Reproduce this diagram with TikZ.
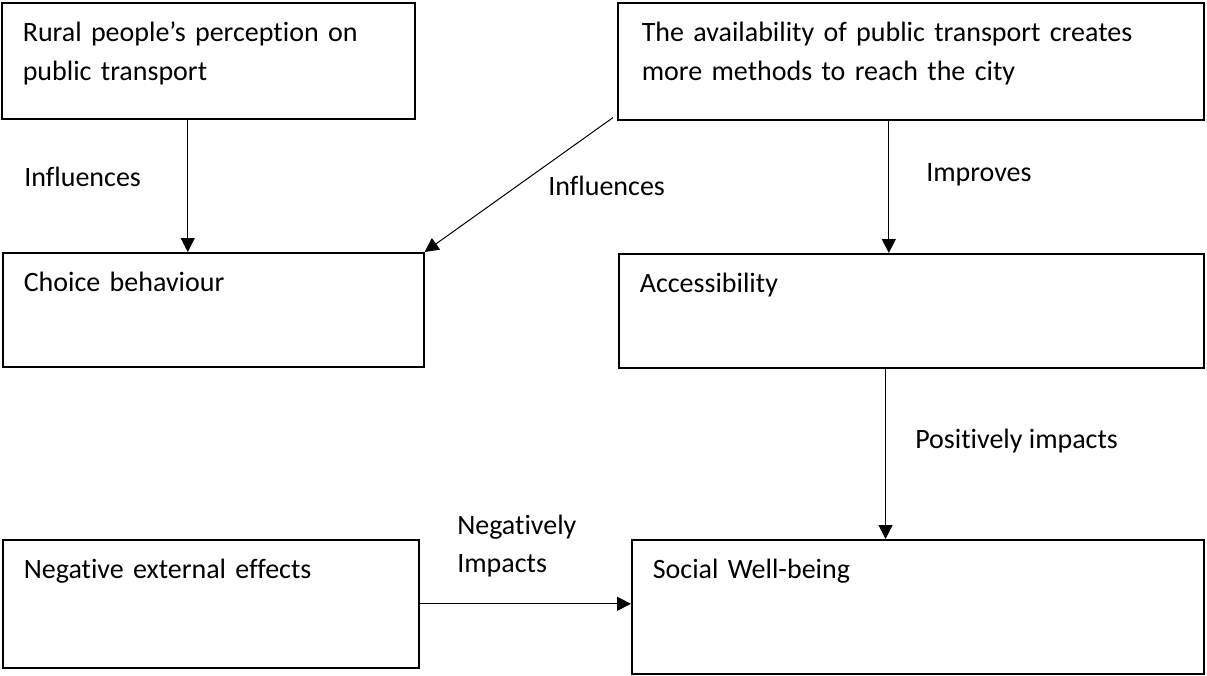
\documentclass[tikz,border=0pt]{standalone}
\usepackage{fontspec}
\setmainfont[Ligatures={NoCommon}]{Carlito}
\usetikzlibrary{arrows.meta}

\begin{document}
\begin{tikzpicture}[x=0.75pt, y=-0.75pt,
    box/.style={draw, line width=1.2pt, anchor=north west, align=left, inner xsep=15.75pt, inner ysep=0pt, text height=29.25pt, font=\fontsize{21pt}{29.25pt}\selectfont},
    lbl/.style={anchor=west, inner sep=0pt, align=left, font=\fontsize{21pt}{28.5pt}\selectfont},
    arr/.style={line width=0.75pt, -{Triangle[length=10.5pt,width=10.5pt]}}]
				\useasboundingbox (0,0) rectangle (1207,675);
				\node[box, text width=403.5pt, text depth=58.5pt, inner xsep=18pt] (avail) at (617,2) {The availability of public transport creates\\more methods to reach the city};
				\node[box, text width=278.25pt, text depth=57.75pt] (rural) at (1,2) {Rural people’s perception on\\public transport};
				\node[box, text width=284.25pt, text depth=56.25pt] (choice) at (2,252) {Choice behaviour};
				\node[box, text width=407.25pt, text depth=56.25pt] (access) at (618,253) {Accessibility};
				\node[box, text width=280.5pt, text depth=66.75pt] (negext) at (2,539) {Negative external effects};
				\node[box, text width=397.5pt, text depth=71.25pt] (social) at (631,539) {Social Well-being};
				\node[lbl] (influleft) at (24,177) {Influences};
				\node[lbl] (influmid) at (548,186) {Influences};
				\node[lbl] (improves) at (926,175) {Improves};
				\node[lbl] (posimp) at (915,441) {Positively impacts};
				\node[lbl] (negimp) at (457,546) {Negatively\\Impacts};
				\draw[arr] ([xshift=-15.4pt]rural.south) -- ([xshift=-15.4pt]rural.south |- choice.north);
				\draw[arr] ([xshift=-3pt, yshift=2.25pt]avail.south west) -- (choice.north east);
				\draw[arr] ([xshift=-16.5pt]avail.south) -- ([xshift=-16.5pt]avail.south |- access.north);
				\draw[arr] ([xshift=-19.3pt]access.south) -- ([xshift=-19.3pt]access.south |- social.north);
				\draw[arr] (negext.east) -- (negext.east -| social.west);
			\end{tikzpicture}
\end{document}
